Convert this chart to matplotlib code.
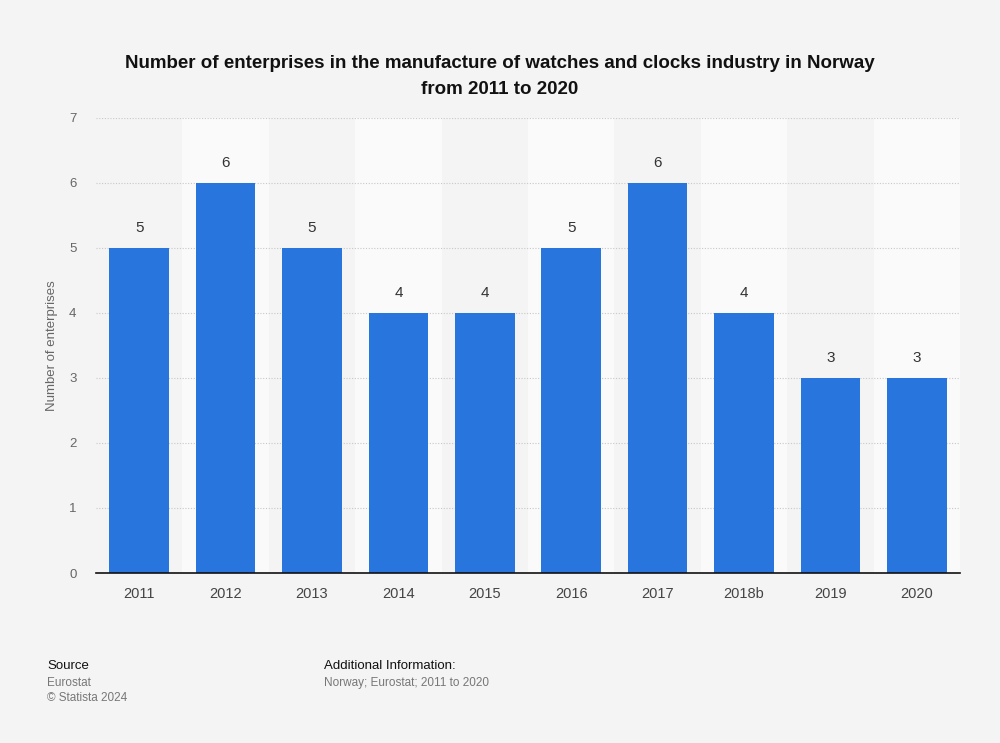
import numpy as np
import matplotlib.pyplot as plt

plt.rcParams['font.family'] = ['Liberation Sans', 'DejaVu Sans']

years = ['2011', '2012', '2013', '2014', '2015', '2016', '2017', '2018b', '2019', '2020']
enterprises = [5, 6, 5, 4, 4, 5, 6, 4, 3, 3]
yticks = [0, 1, 2, 3, 4, 5, 6, 7]

bg = '#f4f4f4'
blue = '#2876dd'

fig = plt.figure(figsize=(10, 7.43), dpi=100, facecolor=bg)
ax = fig.add_axes([0.096, 0.2288, 0.864, 0.6124])
ax.set_facecolor(bg)

x = np.arange(len(years))
# alternating column bands
for i in x:
    if i % 2 == 1:
        ax.axvspan(i - 0.5, i + 0.5, color='#fafafa', zorder=0, lw=0)

ax.set_yticks(yticks)
ax.grid(axis='y', color='#c8c8c8', linestyle=(0, (1, 1.5)), linewidth=0.8, zorder=1)
bars = ax.bar(x, enterprises, width=0.69, color=blue, zorder=2)

for xi, v in zip(x, enterprises):
    ax.text(xi, v + 0.2, str(v), ha='center', va='bottom', fontsize=11, color='#333333')

ax.set_xlim(-0.5, len(years) - 0.5)
ax.set_ylim(0, 7)
ax.set_xticks(x)
ax.set_xticklabels(years, fontsize=10.5, color='#444444')
ax.tick_params(axis='x', length=0, pad=10)
ax.tick_params(axis='y', length=0, pad=14, labelsize=9.5, labelcolor='#666666')
for s in ['top', 'right', 'left']:
    ax.spines[s].set_visible(False)
ax.spines['bottom'].set_color('#111111')
ax.spines['bottom'].set_linewidth(1.2)
ax.spines['bottom'].set_zorder(3)

ax.set_ylabel('Number of enterprises', fontsize=9.5, color='#666666', labelpad=8)

fig.text(0.5, 0.915, 'Number of enterprises in the manufacture of watches and clocks industry in Norway',
         ha='center', va='center', fontsize=13.5, fontweight='bold', color='#111111')
fig.text(0.5, 0.879, 'from 2011 to 2020',
         ha='center', va='center', fontsize=13.5, fontweight='bold', color='#111111')

fig.text(0.047, 0.104, 'Source', fontsize=9.5, color='#111111', va='center')
fig.text(0.047, 0.081, 'Eurostat', fontsize=8.5, color='#777777', va='center')
fig.text(0.047, 0.060, '\u00a9 Statista 2024', fontsize=8.5, color='#777777', va='center')
fig.text(0.324, 0.104, 'Additional Information:', fontsize=9.5, color='#111111', va='center')
fig.text(0.324, 0.081, 'Norway; Eurostat; 2011 to 2020', fontsize=8.5, color='#777777', va='center')

fig.savefig('out.png', dpi=100, facecolor=bg)
